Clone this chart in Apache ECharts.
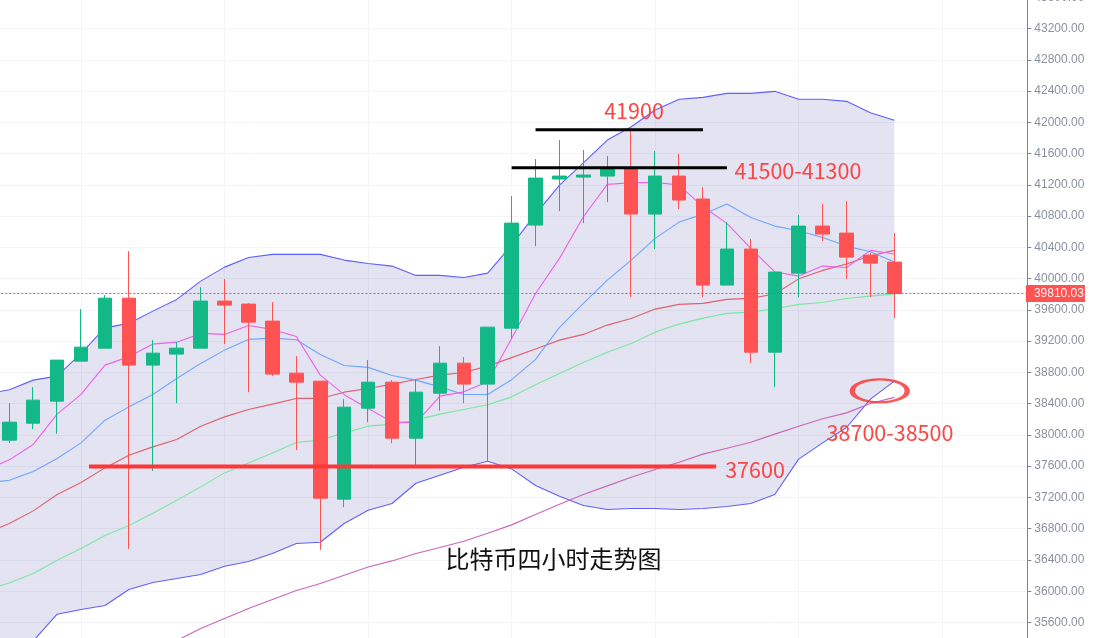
<!DOCTYPE html>
<html><head><meta charset="utf-8">
<style>html,body{margin:0;padding:0;background:#fff;overflow:hidden}#c{width:1093px;height:638px}</style>
<script src="https://cdn.jsdelivr.net/npm/echarts@6/dist/echarts.min.js"></script>
</head><body><div id="c"></div>
<script>
const categories = Array.from({length:44},(_,i)=>String(i));
const N = null;
// [open, close, low, high]
const candles = [
 [N,N,N,N],
 [37933,38163,37898,38406],[38150,38445,38074,38611],[38432,38957,38014,38957],[38944,39123,38944,39610],
 [39110,39750,39110,39789],[39750,38893,36541,40352],[38893,39046,37540,39213],[39034,39110,38406,39187],
 [39110,39712,39110,39891],[39712,39661,39162,39994],[39674,39443,38547,39686],[39456,38778,38752,39699],
 [38790,38675,37805,39008],[38688,37190,36529,38688],[37178,38355,37075,38458],[38342,38675,38163,38957],
 [38675,37958,37894,38701],[37958,38547,37613,38714],[38534,38918,38308,39136],[38918,38650,38406,38995],
 [38650,39379,37651,39379],[39366,40710,39238,41056],[40685,41286,40416,41530],[41274,41312,40864,41773],
 [41299,41325,40710,41645],[41312,41414,40979,41568],[41414,40826,39763,41914],[40826,41312,40378,41632],
 [41312,41005,40890,41594],[41018,39917,39763,41171],[39917,40378,39917,40723],[40378,39059,38918,40506],
 [39059,40083,38611,40083],[40070,40672,39763,40813],[40672,40570,40480,40954],[40582,40275,39994,40992],
 [40301,40198,39763,40326],[40211,39810,39494,40582]
];
const upperBand = [38522,38577,38701,38752,39043,39370,39427,39584,39734,39968,40147,40271,40310,40310,40310,40237,40194,40160,40041,40041,40015,40070,40429,40826,41197,41482,41773,41943,42157,42294,42319,42370,42370,42396,42294,42294,42268,42122,42025];
const lowerBand = [34861,35117,35364,35706,35766,35817,36022,36111,36162,36214,36320,36380,36482,36610,36627,36867,37037,37123,37382,37485,37587,37664,37565,37353,37216,37097,37046,37059,37059,37046,37059,37084,37123,37238,37690,37898,38095,38458,38688];
const maPink = [37549,37681,37878,38266,38518,38893,38999,39162,39187,39299,39286,39401,39350,39260,38765,38515,38339,38167,38154,38496,38551,38679,39235,39810,40259,40791,41206,41226,41231,41197,40919,40707,40386,40087,40032,40160,40143,40361,40314];
const maBlue = [37382,37420,37532,37698,37898,38189,38359,38518,38722,38915,39085,39222,39238,39217,39030,38889,38864,38761,38701,38615,38518,38518,38707,38966,39375,39683,39981,40237,40515,40723,40822,40954,40783,40672,40612,40527,40416,40343,40211];
const maRed = [36742,36866,37028,37238,37391,37578,37741,37847,37942,38112,38231,38326,38394,38467,38467,38547,38594,38650,38710,38765,38799,38880,38989,39098,39213,39286,39405,39490,39610,39670,39683,39734,39747,39802,39997,40105,40186,40292,40361];
const maGreen = [36013,36106,36227,36397,36547,36713,36841,36998,37165,37335,37514,37642,37770,37903,37933,38026,38112,38138,38189,38266,38326,38385,38487,38641,38786,38927,39059,39170,39315,39418,39494,39555,39571,39614,39670,39695,39746,39776,39805];
const maMauve = [N,N,N,N,N,N,N,35181,35369,35522,35650,35779,35894,36009,36099,36205,36311,36388,36482,36559,36640,36742,36849,36982,37114,37238,37348,37459,37558,37651,37754,37830,37907,38010,38112,38206,38282,38403,38480];
const bandWidth = upperBand.map((u,i)=>u-lowerBand[i]);
const lastPrice = 39810.03;
const resistanceHigh = [[23,41905],[30,41905]];
const resistanceLow = [[22,41420],[31,41420]];
const supportLine = [[4.33,37596],[30.55,37596]];
const ellipseCentre = [37.39,38563];

const RED='#FF5353', GREEN='#12B886', NOTE='#FA4545';
const line=(name,data,color)=>({name,type:'line',data,showSymbol:false,symbol:'none',smooth:false,silent:true,animation:false,
  xAxisIndex:0,yAxisIndex:0,lineStyle:{color,width:1.1},connectNulls:false});
const seg=(name,data,color,width)=>({name,type:'line',data,showSymbol:false,symbol:'none',silent:true,animation:false,
  xAxisIndex:1,yAxisIndex:0,lineStyle:{color,width,cap:'butt'},z:5});
const chart=echarts.init(document.getElementById('c'),null,{renderer:'canvas',width:1093,height:638});
chart.setOption({
 animation:false,backgroundColor:'#fff',
 grid:{left:-26.58,top:-2.75,width:1052.5,height:656.5,containLabel:false,outerBoundsMode:'none'},
 xAxis:[
  {type:'category',data:categories,boundaryGap:true,axisLine:{show:false},axisTick:{show:false},axisLabel:{show:false},
   splitLine:{show:true,alignWithLabel:true,interval:(i)=>i%6===4,lineStyle:{color:'#F4F4F8',width:1}}},
  {type:'value',min:-0.5,max:43.5,show:false,splitLine:{show:false}}
 ],
 yAxis:{type:'value',position:'right',offset:1.4,min:35200,max:43600,interval:400,scale:true,
  axisLine:{show:true,onZero:false,lineStyle:{color:'#7F8690',width:1}},
  axisTick:{show:true,length:4,lineStyle:{color:'#7F8690'}},
  axisLabel:{color:'#8A919E',fontSize:12,fontFamily:'"Liberation Sans"',margin:7,showMinLabel:true,showMaxLabel:true,formatter:v=>v.toFixed(2)},
  splitLine:{show:true,lineStyle:{color:'#F4F4F8',width:1}}},
 series:[
  {name:'bandBase',type:'line',stack:'bb',data:lowerBand,showSymbol:false,symbol:'none',silent:true,lineStyle:{opacity:0,width:0}},
  {name:'bandFill',type:'line',stack:'bb',data:bandWidth,showSymbol:false,symbol:'none',silent:true,lineStyle:{opacity:0,width:0},
   areaStyle:{color:'rgb(60,60,160)',opacity:0.14}},
  line('upper',upperBand,'#5F5FFF'),
  line('lower',lowerBand,'#5F5FFF'),
  line('mauve',maMauve,'#CC66B4'),
  line('green',maGreen,'#7BE8A0'),
  line('red',maRed,'#E0606E'),
  line('blue',maBlue,'#6EA6FF'),
  line('pink',maPink,'#F060E6'),
  {name:'K',type:'candlestick',data:candles,barWidth:14,silent:true,
   itemStyle:{color:GREEN,color0:RED,borderColor:GREEN,borderColor0:RED,borderWidth:1},z:3},
  {name:'last',type:'line',xAxisIndex:1,data:[[-0.5,lastPrice],[43.5,lastPrice]],showSymbol:false,symbol:'none',silent:true,
   lineStyle:{color:'#E84848',width:1,type:[2,2]},z:4,
   endLabel:{show:true,formatter:()=>lastPrice.toFixed(2),color:'#FFF4F4',backgroundColor:RED,fontSize:12,fontFamily:'"Liberation Sans"',
     padding:[2,1,2,8],distance:0,lineHeight:13,align:'left'}},
  seg('r1',resistanceHigh,'#000',3),
  seg('r2',resistanceLow,'#000',3),
  seg('s1',supportLine,'#FF3636',4),
  {name:'ring',type:'scatter',xAxisIndex:1,data:[ellipseCentre],symbol:'circle',symbolSize:[55,23],silent:true,z:6,
   itemStyle:{color:'rgba(0,0,0,0)',borderColor:'#F53030',borderWidth:3.5}}
 ],
 graphic:[
  {type:'text',x:634,y:111,z:10,style:{text:'41900',fill:NOTE,font:'21.5px "Noto Sans CJK SC"',textAlign:'center',textVerticalAlign:'middle'}},
  {type:'text',x:798,y:171,z:10,style:{text:'41500-41300',fill:NOTE,font:'21.5px "Noto Sans CJK SC"',textAlign:'center',textVerticalAlign:'middle'}},
  {type:'text',x:755,y:470,z:10,style:{text:'37600',fill:NOTE,font:'21.5px "Noto Sans CJK SC"',textAlign:'center',textVerticalAlign:'middle'}},
  {type:'text',x:890,y:433,z:10,style:{text:'38700-38500',fill:NOTE,font:'21.5px "Noto Sans CJK SC"',textAlign:'center',textVerticalAlign:'middle'}},
  {type:'text',x:553.5,y:559,z:10,style:{text:'比特币四小时走势图',fill:'#111',font:'24px "Noto Sans CJK SC"',textAlign:'center',textVerticalAlign:'middle'}}
 ]
});
</script></body></html>
